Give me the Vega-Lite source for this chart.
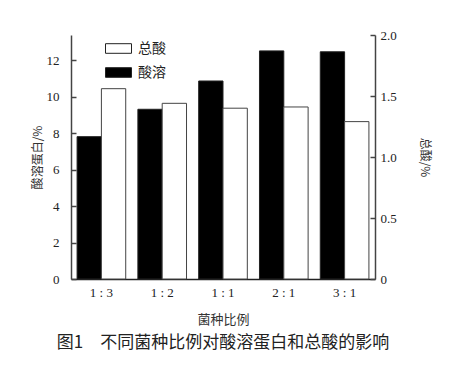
{
  "$schema": "https://vega.github.io/schema/vega-lite/v6.json",
  "width": 304,
  "height": 244,
  "autosize": "none",
  "padding": {"left": 71, "top": 35, "right": 81, "bottom": 104},
  "background": "white",
  "config": {
    "view": {"stroke": null},
    "axis": {"grid": false, "labelFont": "Liberation Serif", "labelFontSize": 13, "labelColor": "#222", "titleFont": "Noto Sans CJK SC", "titleFontSize": 12, "titleFontWeight": "normal", "titleColor": "#333", "domainColor": "#444", "domainWidth": 1.5, "tickColor": "#444", "tickWidth": 1.5}
  },
  "title": {"text": "图1　不同菌种比例对酸溶蛋白和总酸的影响", "orient": "bottom", "anchor": "middle", "font": "Noto Sans CJK SC", "fontSize": 17, "fontWeight": "normal", "color": "#222", "offset": 9},
  "data": {
    "values": [
      {"ratio": "1 : 3", "series": "酸溶", "value": 7.8},
      {"ratio": "1 : 2", "series": "酸溶", "value": 9.3},
      {"ratio": "1 : 1", "series": "酸溶", "value": 10.85},
      {"ratio": "2 : 1", "series": "酸溶", "value": 12.5},
      {"ratio": "3 : 1", "series": "酸溶", "value": 12.45},
      {"ratio": "1 : 3", "series": "总酸", "value": 1.56},
      {"ratio": "1 : 2", "series": "总酸", "value": 1.44},
      {"ratio": "1 : 1", "series": "总酸", "value": 1.40},
      {"ratio": "2 : 1", "series": "总酸", "value": 1.41},
      {"ratio": "3 : 1", "series": "总酸", "value": 1.29}
    ]
  },
  "encoding": {
    "x": {"field": "ratio", "type": "nominal", "sort": ["1 : 3", "1 : 2", "1 : 1", "2 : 1", "3 : 1"],
      "scale": {"paddingInner": 0.2, "paddingOuter": 0.1},
      "axis": {"title": "菌种比例", "titleFontSize": 13, "labelAngle": 0, "ticks": false, "labelPadding": 7, "titlePadding": 14, "domainColor": "#222", "domainWidth": 1.5}},
    "xOffset": {"field": "series", "type": "nominal", "scale": {"domain": ["酸溶", "总酸"]}},
    "fill": {"field": "series", "type": "nominal", "scale": {"domain": ["总酸", "酸溶"], "range": ["white", "black"]},
      "legend": {"title": null, "orient": "none", "legendX": 34, "legendY": 0, "padding": 0, "rowPadding": 3,
        "symbolType": "M-1,-0.37H1V0.37H-1Z", "symbolSize": 676, "symbolStrokeColor": "#222", "symbolStrokeWidth": 1,
        "labelFont": "Noto Sans CJK SC", "labelFontSize": 14, "labelColor": "#222", "labelOffset": 6}}
  },
  "layer": [
    {
      "transform": [{"filter": "datum.series === '酸溶'"}],
      "mark": {"type": "bar", "stroke": "#222", "strokeWidth": 1},
      "encoding": {
        "y": {"field": "value", "type": "quantitative", "scale": {"domain": [0, 13.37], "nice": false},
          "axis": {"orient": "left", "title": "酸溶蛋白/%", "values": [0, 2, 4, 6, 8, 10, 12], "tickSize": -5, "labelPadding": 17, "titlePadding": 2}}
      }
    },
    {
      "transform": [{"filter": "datum.series === '总酸'"}],
      "mark": {"type": "bar", "stroke": "#444", "strokeWidth": 1},
      "encoding": {
        "y": {"field": "value", "type": "quantitative", "scale": {"domain": [0, 2], "nice": false},
          "axis": {"orient": "right", "title": "总酸/%", "values": [0, 0.5, 1, 1.5, 2], "labelExpr": "datum.value == 0 ? '0' : format(datum.value, '.1f')", "tickSize": -5, "labelPadding": 10, "titlePadding": 21, "titleAngle": 90}}
      }
    }
  ],
  "resolve": {"scale": {"y": "independent"}}
}
